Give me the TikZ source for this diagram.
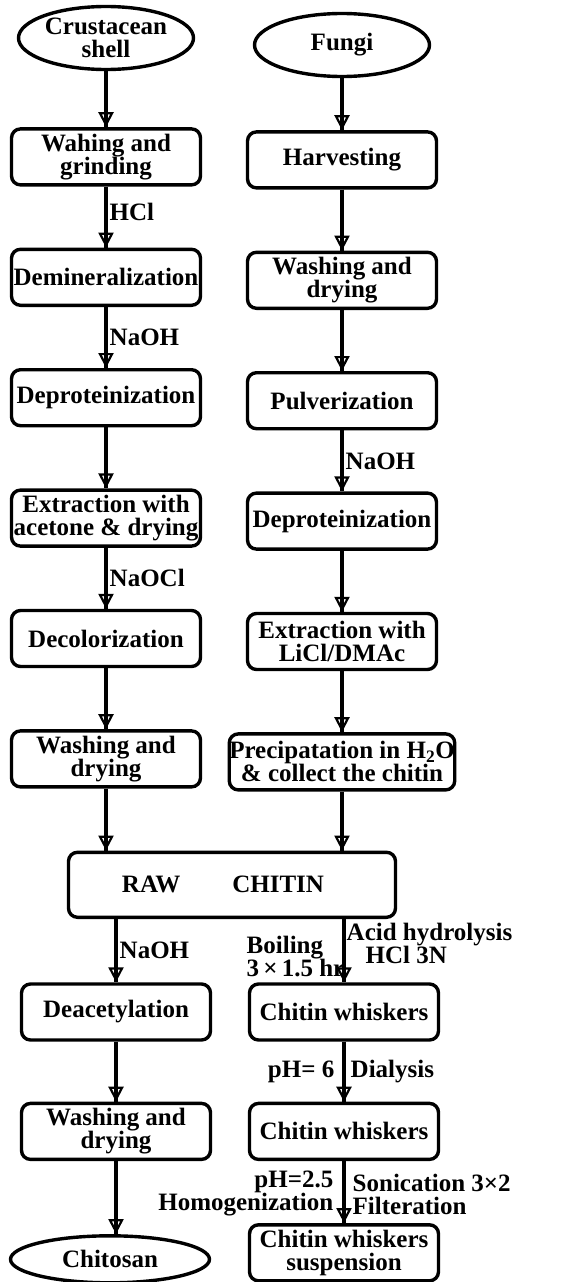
\documentclass[tikz,border=0pt]{standalone}
\usepackage{fontspec}
\setmainfont{Liberation Serif}
\usepackage{tikz}
\usetikzlibrary{arrows.meta,positioning,shapes.geometric}
\definecolor{ink}{HTML}{000000}
\newcommand{\flowfont}{\fontsize{25}{23}\selectfont\bfseries}

\begin{document}
\begin{tikzpicture}[
  x=1pt,y=-1pt,
  node distance=61pt,
  box/.style={draw=ink,line width=3.4pt,rounded corners=9pt,align=center,minimum width=189pt,minimum height=56pt,inner sep=0pt,font=\flowfont},
  oval/.style={draw=ink,line width=3.4pt,ellipse,minimum width=175pt,minimum height=63pt,inner sep=0pt,align=center,font=\flowfont},
  lbl/.style={font=\flowfont,inner sep=2pt},
  arrow/.style={-{Triangle[open,length=15pt,width=15pt,line width'=2.2pt]},line width=3.4pt,draw=ink,postaction={draw=ink,arrows=-}}
]
\useasboundingbox (0,0) rectangle (582,1282);
% crustacean route
\node[oval] (crust) at (106,38) {Crustacean\\shell};
\node[box,below=56pt of crust] (grind) {Wahing and\\grinding};
\node[box,below=of grind] (demin) {Demineralization};
\node[box,below=of demin] (deprot) {Deproteinization};
\node[box,below=of deprot] (extract) {Extraction with\\acetone \& drying};
\node[box,below=of extract] (decol) {Decolorization};
\node[box,below=of decol] (wash) {Washing and\\drying};
% fungi route
\node[oval] (fungi) at (342,45) {Fungi};
\node[box,below=52pt of fungi] (harvest) {Harvesting};
\node[box,below=of harvest] (washf) {Washing and\\drying};
\node[box,below=of washf] (pulv) {Pulverization};
\node[box,below=of pulv] (deprotf) {Deproteinization};
\node[box,below=of deprotf] (licl) {Extraction with\\LiCl/DMAc};
\node[box,below=of licl,minimum width=222pt] (precip) {Precipatation in H\textsubscript{2}O\\\& collect the chitin};
% chitin
\node[box,below=62pt of wash,xshift=126pt,minimum width=327pt,minimum height=65pt] (raw) {RAW\hspace{52pt}CHITIN\hspace*{18pt}};
\node[box] (deac) at (116,1012) {Deacetylation};
\node[box,below=60pt of deac] (washc) {Washing and\\drying};
\node[oval,below=73pt of washc,xshift=-6pt,minimum width=199pt,minimum height=47pt] (chitosan) {Chitosan};
\node[box] (whisk) at (344,1012) {Chitin whiskers};
\node[box,below=60pt of whisk] (whisk2) {Chitin whiskers};
\node[box,below=62pt of whisk2] (susp) {Chitin whiskers\\suspension};

\draw[arrow] (crust) -- (grind);
\draw[arrow] (grind) -- node[lbl,pos=0.42,right] {HCl} (demin);
\draw[arrow] (demin) -- node[lbl,right] {NaOH} (deprot);
\draw[arrow] (deprot) -- (extract);
\draw[arrow] (extract) -- node[lbl,right] {NaOCl} (decol);
\draw[arrow] (decol) -- (wash);
\draw[arrow] (wash) -- (wash |- raw.north);
\draw[arrow] (fungi) -- (harvest);
\draw[arrow] (harvest) -- (washf);
\draw[arrow] (washf) -- (pulv);
\draw[arrow] (pulv) -- node[lbl,right] {NaOH} (deprotf);
\draw[arrow] (deprotf) -- (licl);
\draw[arrow] (licl) -- (precip);
\draw[arrow] (precip) -- (precip |- raw.north);
\draw[arrow] (washc) -- (washc |- chitosan.north);
\draw[arrow] (raw.south -| deac) -- node[lbl,right] {NaOH} (deac);
\draw[arrow] (deac) -- (washc);
\draw[arrow] (raw.south -| whisk) -- node[lbl,pos=0.38,anchor=west,align=left,inner sep=1pt] {Acid hydrolysis\\\hspace*{19pt}HCl 3N}
  node[lbl,pos=0.6,anchor=east,align=left,xshift=4pt] {Boiling\\3\,×\,1.5 hr} (whisk);
\draw[arrow] (whisk) -- node[lbl,left,xshift=-6pt] {pH= 6} node[lbl,right,xshift=3pt] {Dialysis} (whisk2);
\draw[arrow] (whisk2) -- node[lbl,pos=0.53,anchor=east,align=right,xshift=-7pt] {pH=2.5\\Homogenization}
  node[lbl,pos=0.53,anchor=west,align=left,xshift=5pt] {Sonication 3×2\\Filteration} (susp);
\end{tikzpicture}
\end{document}
